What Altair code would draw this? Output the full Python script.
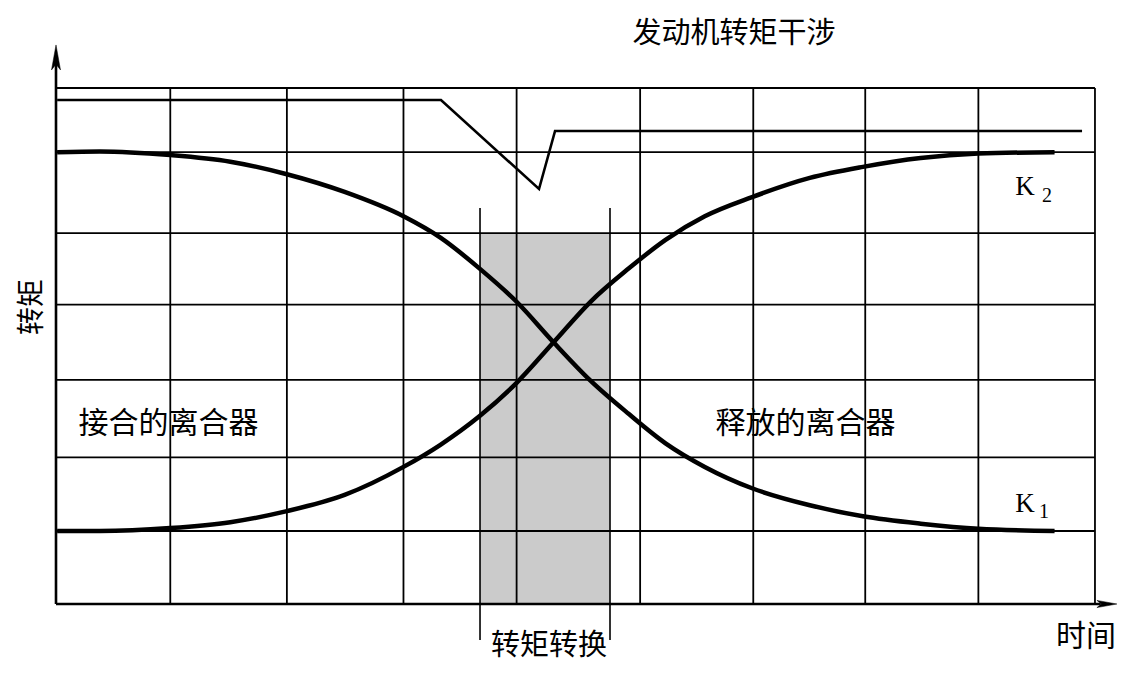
import altair as alt
import pandas as pd

# ---------------- data ----------------
# grid positions: time units (x) and torque units (y)
x_grid = [0.0, 0.99, 2.0, 3.01, 3.99, 5.06, 6.04, 7.01, 7.99, 9.0]
y_grid = [0.0, 0.99, 1.99, 3.04, 4.06, 5.03, 6.13, 7.0]

# clutch torque curves
curve_t = [0.01, 0.38, 0.99, 1.51, 2.0, 2.5, 3.01, 3.33, 3.67, 3.99, 4.31,
           4.63, 4.96, 5.28, 5.62, 6.03, 6.53, 6.99, 7.49, 7.99, 8.65]
k1_vals = [6.13, 6.14, 6.09, 6.0, 5.83, 5.59, 5.26, 4.97, 4.55, 4.1, 3.55,
           3.03, 2.58, 2.18, 1.86, 1.57, 1.34, 1.19, 1.09, 1.02, 0.99]
k2_vals = [0.99, 0.99, 1.03, 1.11, 1.26, 1.48, 1.86, 2.16, 2.55, 3.0, 3.55,
           4.1, 4.55, 4.94, 5.26, 5.52, 5.78, 5.93, 6.05, 6.11, 6.13]

# engine torque (with interference dip)
engine_t = [0.01, 3.335, 4.184, 4.323, 8.888]
engine_v = [6.838, 6.838, 5.63, 6.417, 6.417]

# torque handover window
shift_t = [3.673, 4.799]
shade_top = 5.033

X_DOMAIN = [-0.4158, 9.1995]
Y_DOMAIN = [-0.8682, 8.0853]

CJK = "Noto Sans CJK SC"
SERIF = "Liberation Serif"


def X(field="t", **kw):
    return alt.X(field, type="quantitative",
                 scale=alt.Scale(domain=X_DOMAIN, nice=False, zero=False),
                 axis=None, **kw)


def Y(field="v", **kw):
    return alt.Y(field, type="quantitative",
                 scale=alt.Scale(domain=Y_DOMAIN, nice=False, zero=False),
                 axis=None, **kw)


# shaded band
shade_df = pd.DataFrame({"t": [shift_t[0]], "t2": [shift_t[1]], "v": [0.0], "v2": [shade_top]})
shade = alt.Chart(shade_df).mark_rect(fill="#cbcbcb").encode(
    x=X("t"), x2="t2", y=Y("v"), y2="v2")

# handover markers
mark_df = pd.DataFrame({"t": shift_t, "v": [-0.488] * 2, "v2": [5.372] * 2})
markers = alt.Chart(mark_df).mark_rule(color="black", strokeWidth=1.6).encode(
    x=X("t"), y=Y("v"), y2="v2")

# vertical grid
vg_df = pd.DataFrame({"t": x_grid, "v": [0.0] * len(x_grid), "v2": [7.0] * len(x_grid)})
vgrid = alt.Chart(vg_df).mark_rule(color="black", strokeWidth=1.8).encode(
    x=X("t"), y=Y("v"), y2="v2")

# horizontal grid
hg_df = pd.DataFrame({"v": y_grid, "t": [0.0] * len(y_grid), "t2": [9.0] * len(y_grid)})
hgrid = alt.Chart(hg_df).mark_rule(color="black", strokeWidth=1.8).encode(
    y=Y("v"), x=X("t"), x2="t2")

# axes with arrows
yaxis_df = pd.DataFrame({"t": [0.0], "v": [0.0], "v2": [7.45]})
yaxis = alt.Chart(yaxis_df).mark_rule(color="black", strokeWidth=2.6).encode(
    x=X("t"), y=Y("v"), y2="v2")
xaxis_df = pd.DataFrame({"v": [0.0], "t": [0.0], "t2": [9.05]})
xaxis = alt.Chart(xaxis_df).mark_rule(color="black", strokeWidth=2.6).encode(
    y=Y("v"), x=X("t"), x2="t2")

up_df = pd.DataFrame({"t": [0.0], "v": [7.584]})
up_arrow = alt.Chart(up_df).mark_point(
    shape="M0,0 L0.36,2 L0,1.55 L-0.36,2 Z", size=625, filled=True,
    fill="black", stroke="black", strokeWidth=0.5, opacity=1).encode(x=X("t"), y=Y("v"))
right_df = pd.DataFrame({"t": [9.19], "v": [0.0]})
right_arrow = alt.Chart(right_df).mark_point(
    shape="M0,0 L-2,-0.36 L-1.55,0 L-2,0.36 Z", size=400, filled=True,
    fill="black", stroke="black", strokeWidth=0.5, opacity=1).encode(x=X("t"), y=Y("v"))

# engine torque
eng_df = pd.DataFrame({"t": engine_t, "v": engine_v, "o": list(range(len(engine_t)))})
engine = alt.Chart(eng_df).mark_line(color="black", strokeWidth=2.6).encode(
    x=X("t"), y=Y("v"), order="o")

# clutch curves
curve_df = pd.DataFrame({
    "t": curve_t + curve_t,
    "v": k1_vals + k2_vals,
    "k": ["K1"] * len(curve_t) + ["K2"] * len(curve_t),
})
curves = alt.Chart(curve_df).mark_line(color="black", strokeWidth=4.5,
                                        interpolate="monotone").encode(
    x=X("t"), y=Y("v"), detail="k")

# texts
title_df = pd.DataFrame({"t": [5.873], "v": [7.733], "label": ["发动机转矩干涉"]})
title_text = alt.Chart(title_df).mark_text(
    font=CJK, fontSize=29, color="black", align="center", baseline="middle").encode(
    x=X("t"), y=Y("v"), text="label")

cjk_df = pd.DataFrame({
    "t": [0.975, 6.493, 8.923],
    "v": [2.442, 2.442, -0.448],
    "label": ["接合的离合器", "释放的离合器", "时间"],
})
cjk_text = alt.Chart(cjk_df).mark_text(
    font=CJK, fontSize=30, color="black", align="center", baseline="middle").encode(
    x=X("t"), y=Y("v"), text="label")

bottom_df = pd.DataFrame({"t": [4.271], "v": [-0.57], "label": ["转矩转换"]})
bottom_text = alt.Chart(bottom_df).mark_text(
    font=CJK, fontSize=29, color="black", align="center", baseline="middle").encode(
    x=X("t"), y=Y("v"), text="label")

ylab_df = pd.DataFrame({"t": [-0.199], "v": [4.029], "label": ["转矩"]})
ylab = alt.Chart(ylab_df).mark_text(
    font=CJK, fontSize=28, color="black", align="center", baseline="middle",
    angle=270).encode(x=X("t"), y=Y("v"), text="label")

k_df = pd.DataFrame({"t": [8.394, 8.394], "v": [5.548, 1.248], "label": ["K", "K"]})
k_text = alt.Chart(k_df).mark_text(
    font=SERIF, fontSize=27, color="black", align="center", baseline="alphabetic").encode(
    x=X("t"), y=Y("v"), text="label")
sub_df = pd.DataFrame({"t": [8.584, 8.558], "v": [5.453, 1.167], "label": ["2", "1"]})
sub_text = alt.Chart(sub_df).mark_text(
    font=SERIF, fontSize=20, color="black", align="center", baseline="alphabetic").encode(
    x=X("t"), y=Y("v"), text="label")

chart = alt.layer(
    shade, markers, vgrid, hgrid, yaxis, xaxis, up_arrow, right_arrow,
    engine, curves, title_text, cjk_text, bottom_text, ylab, k_text, sub_text
).properties(
    width=1110, height=660,
    autosize=alt.AutoSizeParams(type="none"),
    padding=0,
    background="white",
).configure_view(stroke=None)

chart.save("out.html", embed_options={"renderer": "svg", "actions": False})
